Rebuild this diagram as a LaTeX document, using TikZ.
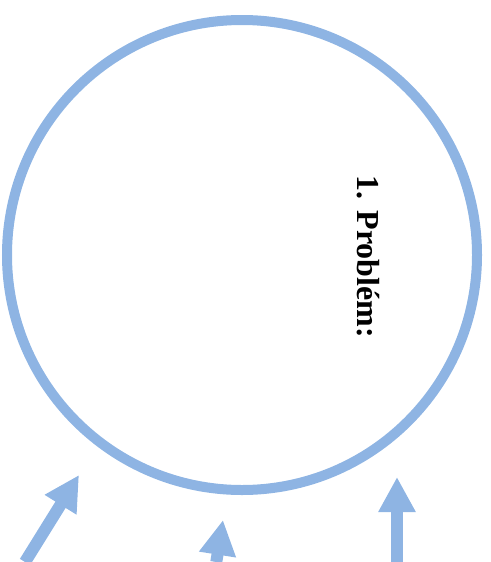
\documentclass[tikz,border=0pt]{standalone}
\usepackage{fontspec}
\setmainfont{Liberation Serif}
\usetikzlibrary{arrows.meta}
\definecolor{ringblue}{HTML}{8EB4E3}
\tikzset{
  ring/.style={draw=ringblue, line width=10pt, circle, minimum size=470pt, inner sep=0pt},
  bluearrow/.style={draw=ringblue, line width=12pt, -{Triangle[width=35pt,length=35pt]}},
  label/.style={font=\fontsize{32}{38}\selectfont\bfseries, rotate=-90}
}
\begin{document}
\begin{tikzpicture}[x=1pt,y=-1pt]
\useasboundingbox (0,0) rectangle (490,562);
\node[ring] (circ) at (242,255) {};
\node[label] (title) at (368,257) {1. Problém:};
\coordinate (a1s) at (25,562);
\coordinate (a1e) at (79,475);
\coordinate (a2s) at (216.3,562);
\coordinate (a2e) at (223,520);
\coordinate (a3s) at (397,562);
\coordinate (a3e) at (397,477);
\draw[bluearrow] (a1s) -- (a1e);
\draw[bluearrow] (a2s) -- (a2e);
\draw[bluearrow] (a3s) -- (a3e);
\end{tikzpicture}
\end{document}
